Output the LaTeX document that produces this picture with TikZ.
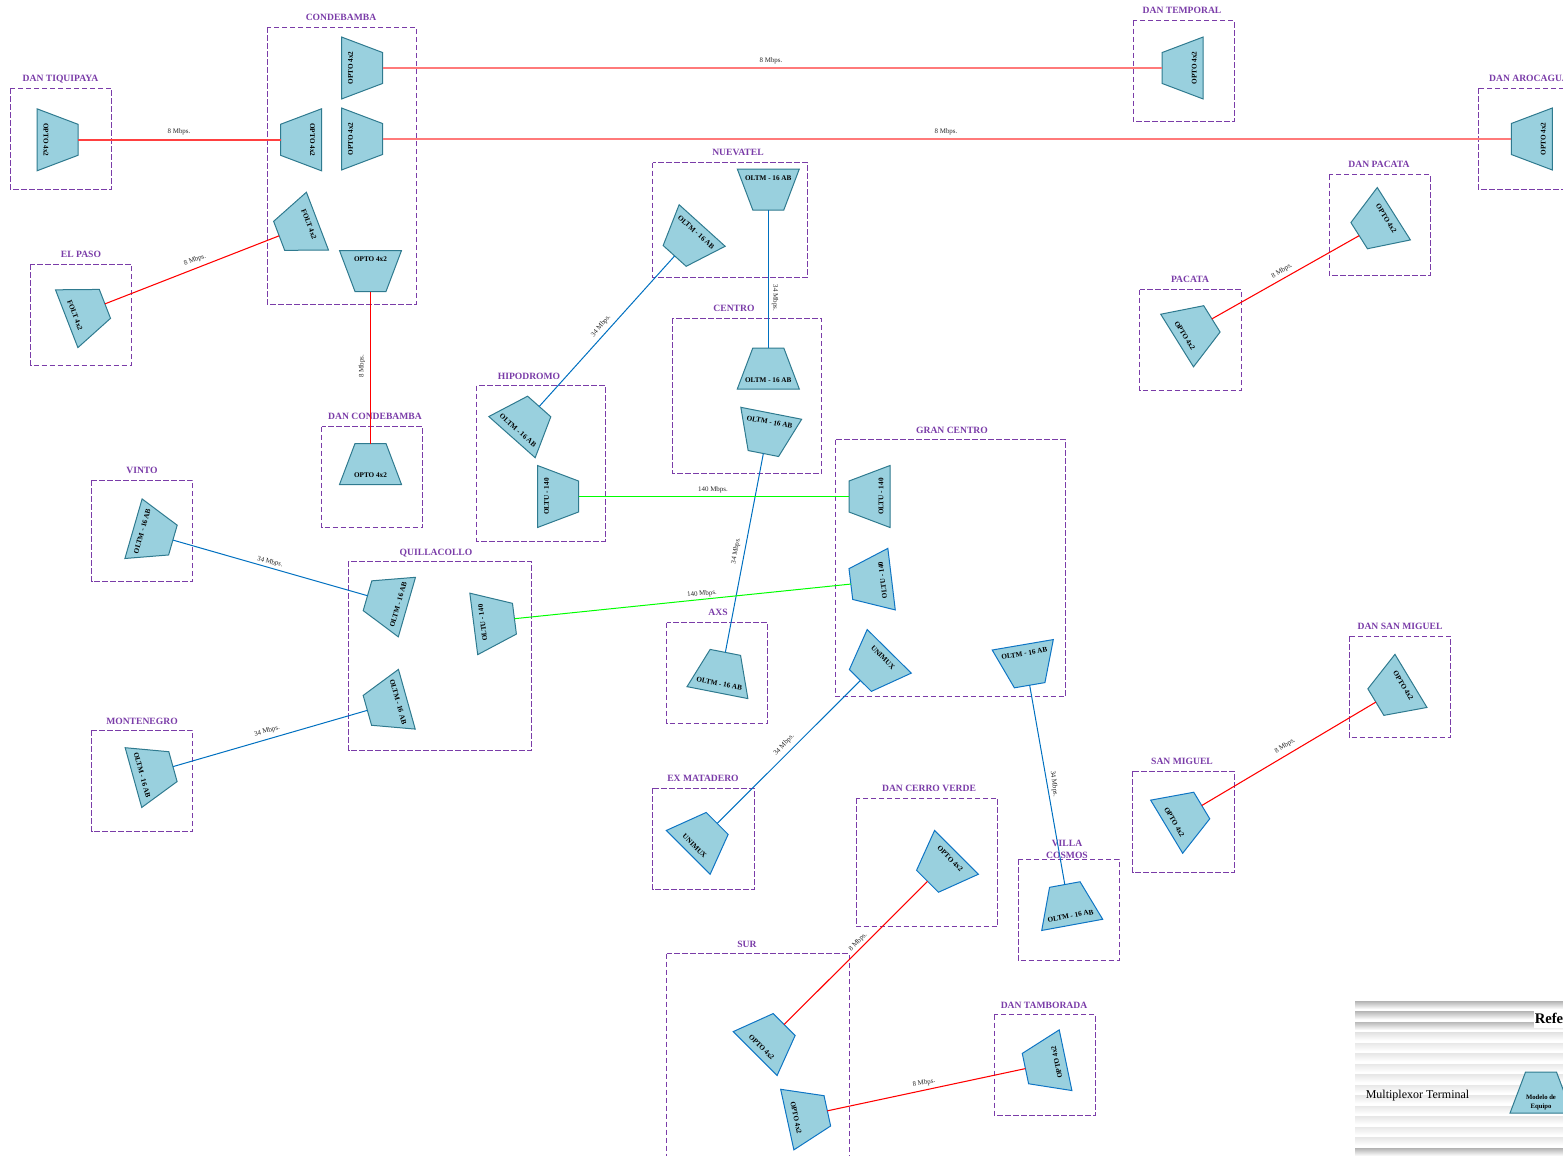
\documentclass[tikz,border=0pt]{standalone}
\usepackage{fontspec}
\setmainfont{Liberation Serif}
\definecolor{sitepurple}{HTML}{7A3CA8}
\definecolor{muxfill}{HTML}{99D0DE}
\definecolor{tealedge}{HTML}{2F7A8F}
\definecolor{blueedge}{HTML}{0F75C4}
\definecolor{linkblue}{HTML}{0070C0}
\definecolor{linkred}{HTML}{FF0000}
\definecolor{linkgreen}{HTML}{00FF00}
\tikzset{
  sitebox/.style={draw=sitepurple,line width=0.75pt,dash pattern=on 4.2pt off 1.8pt},
  sitetitle/.style={text=sitepurple,font=\fontsize{7.2}{9}\selectfont\bfseries,align=center,inner sep=0pt},
  muxshape/.style={fill=muxfill,line width=0.75pt,line join=miter},
  muxlabel/.style={font=\fontsize{5.4}{6.4}\selectfont\bfseries,inner sep=0pt,align=center},
  ratelabel/.style={font=\fontsize{5.2}{6}\selectfont,inner sep=0pt,text=black!85},
  redlink/.style={draw=linkred,line width=0.8pt},
  paleredlink/.style={draw=linkred!52,line width=1.5pt},
  midredlink/.style={draw=linkred!75,line width=1.5pt},
  bluelink/.style={draw=linkblue,line width=0.75pt},
  greenlink/.style={draw=linkgreen,line width=0.75pt}
}
\newcommand{\site}[8]{%
  \draw[sitebox,xshift=0.15pt,yshift=0.3pt] (#2,#3) rectangle (#4,#5);
  \node[sitetitle,yshift=-0.6pt] (#1) at (#6,#7) {#8};}
\newcommand{\mux}[7]{%
  \begin{scope}[shift={(#2,#3)},rotate=#4]
    \draw[muxshape,draw=#7] (-15.5,-20.5)--(15.5,-20.5)--(31,20.5)--(-31,20.5)--cycle;
    \coordinate (#1) at (0,-20.5);
    \node[muxlabel,rotate=#5] (#1-label) at (0,11.5) {#6};
  \end{scope}}
\newcommand{\rate}[5]{\node[ratelabel,rotate=#4] (#1) at (#2,#3) {#5};}
\begin{document}
\begin{tikzpicture}[x=0.75pt,y=-0.75pt]
\useasboundingbox (0,0) rectangle (1563,1156);
\clip (0,0) rectangle (1563,1156);
% legend background
\foreach \i/\g in {0/60,1/55,2/55,3/22,4/18,5/18,6/18,7/18,8/18,9/18,10/18,11/18,12/18,13/18,14/60,15/60}{
  \shade[top color=gray!\g,bottom color=white,shading angle=0] (1355,{1001+\i*10.5}) rectangle (1563,{1001+\i*10.5+8});
}
\fill[white] (1534,1011) rectangle (1563,1028);
\node[font=\fontsize{11}{13}\selectfont\bfseries,inner sep=0pt,anchor=east] (reftitle) at (1563.5,1018.5) {Refe};
\node[font=\fontsize{9}{11}\selectfont,inner sep=0pt] (legtext) at (1417.5,1096) {Multiplexor Terminal};
% sites
\site{sTiq}{10}{88.5}{111.5}{189.5}{60.5}{78}{DAN TIQUIPAYA}
\site{sCond}{267}{27.5}{416}{304.5}{341}{17}{CONDEBAMBA}
\site{sPaso}{30.5}{264.5}{131.5}{365.5}{81}{254}{EL PASO}
\site{sTemp}{1133}{21}{1234}{122}{1182}{10}{DAN TEMPORAL}
\site{sAro}{1478}{88.5}{1580}{189.5}{1529}{78}{DAN AROCAGUA}
\site{sDpac}{1329}{175}{1430}{276}{1379}{164}{DAN PACATA}
\site{sPac}{1139.5}{290}{1241}{391}{1190}{279}{PACATA}
\site{sNue}{652.6}{163}{807.6}{277.5}{738}{152}{NUEVATEL}
\site{sCen}{672.6}{318.5}{821.6}{474}{734}{308}{CENTRO}
\site{sHip}{476.6}{386}{605}{541.5}{529}{376}{HIPODROMO}
\site{sDcon}{321.5}{427}{422.5}{528}{375}{416}{DAN CONDEBAMBA}
\site{sVin}{91.5}{480.5}{192.5}{582}{142}{470}{VINTO}
\site{sGran}{835.5}{440}{1065.5}{697}{952}{430}{GRAN CENTRO}
\site{sQui}{348.5}{561.5}{531}{751}{436}{552}{QUILLACOLLO}
\site{sAxs}{666.5}{623}{767.5}{724}{718}{612}{AXS}
\site{sMon}{91.5}{730.5}{192.5}{832}{142}{721}{MONTENEGRO}
\site{sExm}{652.5}{788.5}{754}{890}{703}{778}{EX MATADERO}
\site{sCv}{856}{798.5}{997.5}{927}{929}{788}{DAN CERRO VERDE}
\site{sSm}{1132.5}{771.5}{1234}{873}{1182}{761}{SAN MIGUEL}
\site{sDsm}{1349}{636.5}{1450.5}{738}{1400}{626}{DAN SAN MIGUEL}
\site{sVil}{1018}{859.5}{1119}{961}{1067}{849}{VILLA\\COSMOS}
\site{sSur}{666.5}{954}{849}{1170}{747}{944}{SUR}
\site{sTam}{994}{1015}{1095}{1116}{1044}{1005}{DAN TAMBORADA}
% devices
\mux{tiq}{57.5}{139.8}{-90}{-90}{OPTO 4x2}{tealedge}
\mux{ctop}{362}{68}{-90}{90}{OPTO 4x2}{tealedge}
\mux{csec}{362}{139}{-90}{90}{OPTO 4x2}{tealedge}
\mux{cleft}{301}{139.8}{90}{-90}{OPTO 4x2}{tealedge}
\mux{cfolt}{298.3}{228.5}{110.9}{-69}{FOLT 4x2}{tealedge}
\mux{copto}{370.5}{271}{180}{0}{OPTO 4x2}{tealedge}
\mux{paso}{85.8}{311.3}{-68.8}{-69}{FOLT 4x2}{tealedge}
\mux{dcond}{370.5}{464}{0}{0}{OPTO 4x2}{tealedge}
\mux{temp}{1182.7}{68}{90}{90}{OPTO 4x2}{tealedge}
\mux{aroc}{1531.8}{139}{90}{90}{OPTO 4x2}{tealedge}
\mux{nueT}{768.3}{189.5}{180}{0}{OLTM - 16 AB}{tealedge}
\mux{nueL}{688.4}{240.7}{137.9}{-42}{OLTM - 16 AB}{tealedge}
\mux{cenT}{768.3}{368.5}{0}{0}{OLTM - 16 AB}{tealedge}
\mux{cenL}{767.3}{433.4}{168.9}{-11}{OLTM - 16 AB}{tealedge}
\mux{hipU}{525.6}{421.8}{-41.6}{-42}{OLTM - 16 AB}{tealedge}
\mux{hipO}{558}{496.5}{-90}{90}{OLTU - 140}{tealedge}
\mux{graO}{869.5}{496.5}{90}{90}{OLTU - 140}{tealedge}
\mux{graT}{871.2}{581.6}{96.9}{97}{OLTU - 140}{blueedge}
\mux{graU}{874.8}{665.9}{135.3}{-45}{UNIMUX}{blueedge}
\mux{graM}{1026.2}{665}{189.7}{9.7}{OLTM - 16 AB}{blueedge}
\mux{quiA}{387.2}{601.4}{73.9}{74}{OLTM - 16 AB}{tealedge}
\mux{quiB}{494.1}{621.3}{-82.7}{97.3}{OLTU - 140}{tealedge}
\mux{quiC}{387.1}{704.8}{105.7}{-74.3}{OLTM - 16 AB}{tealedge}
\mux{vin}{153.2}{534.4}{-106.1}{74}{OLTM - 16 AB}{tealedge}
\mux{mon}{153.2}{772.1}{-74.5}{-74.5}{OLTM - 16 AB}{tealedge}
\mux{axs}{721.4}{672.5}{-11.1}{-11}{OLTM - 16 AB}{tealedge}
\mux{exm}{702.7}{837.9}{-45}{-45}{UNIMUX}{blueedge}
\mux{cve}{942}{866.8}{135}{-45}{OPTO 4x2}{blueedge}
\mux{vil}{1068.5}{904.7}{10.4}{10.4}{OLTM - 16 AB}{blueedge}
\mux{smi}{1184.2}{816.1}{-58.9}{-59}{OPTO 4x2}{blueedge}
\mux{dsm}{1393.4}{691.5}{121.1}{-59}{OPTO 4x2}{tealedge}
\mux{pac}{1194.5}{329.7}{-58.1}{-58}{OPTO 4x2}{tealedge}
\mux{dpa}{1376.5}{224.7}{122.3}{-58}{OPTO 4x2}{tealedge}
\mux{surT}{769.7}{1039}{-45}{-45}{OPTO 4x2}{blueedge}
\mux{surB}{807.3}{1115.2}{-77.7}{-78}{OPTO 4x2}{blueedge}
\mux{tam}{1045.5}{1064.4}{101.8}{101.8}{OPTO 4x2}{blueedge}
\mux{leg}{1541}{1092.6}{0}{0}{}{tealedge}
\node[muxlabel,font=\fontsize{5}{7}\selectfont\bfseries] (legmodel) at (1541,1102.5) {Modelo de\\Equipo};
% connectors
\draw[midredlink] (tiq) -- (cleft);
\draw[paleredlink] (ctop) -- (temp);
\draw[paleredlink] (csec) -- (aroc);
\draw[redlink] (paso) -- (cfolt);
\draw[redlink] (copto) -- (dcond);
\draw[redlink] (pac) -- (dpa);
\draw[redlink] (smi) -- (dsm);
\draw[redlink] (surT) -- (cve);
\draw[redlink] (surB) -- (tam);
\draw[bluelink] (hipU) -- (nueL);
\draw[bluelink] (nueT) -- (cenT);
\draw[bluelink] (cenL) -- (axs);
\draw[bluelink] (vin) -- (quiA);
\draw[bluelink] (mon) -- (quiC);
\draw[bluelink] (exm) -- (graU);
\draw[bluelink] (graM) -- (vil);
\draw[greenlink] (hipO) -- (graO);
\draw[greenlink] (quiB) -- (graT);
% connector labels
\rate{r1}{179}{132}{0}{8 Mbps.}
\rate{r2}{771}{61}{0}{8 Mbps.}
\rate{r3}{946}{132}{0}{8 Mbps.}
\rate{r4}{195}{260}{21}{8 Mbps.}
\rate{r5}{362}{366}{90}{8 Mbps.}
\rate{r6}{1282}{271}{31}{8 Mbps.}
\rate{r7}{601}{326}{50}{34 Mbps.}
\rate{r8}{775}{298}{-90}{34 Mbps.}
\rate{r9}{736}{551}{80}{34 Mbps.}
\rate{r10}{713}{490}{0}{140 Mbps.}
\rate{r11}{702}{594}{5}{140 Mbps.}
\rate{r12}{270}{562}{-15}{34 Mbps.}
\rate{r13}{267}{731}{15}{34 Mbps.}
\rate{r14}{784}{745}{46}{34 Mbps.}
\rate{r15}{1054}{784}{-83}{34 Mbps.}
\rate{r16}{1285}{746}{32}{8 Mbps.}
\rate{r17}{858}{942}{46}{8 Mbps.}
\rate{r18}{924}{1083}{10}{8 Mbps.}
\end{tikzpicture}
\end{document}
